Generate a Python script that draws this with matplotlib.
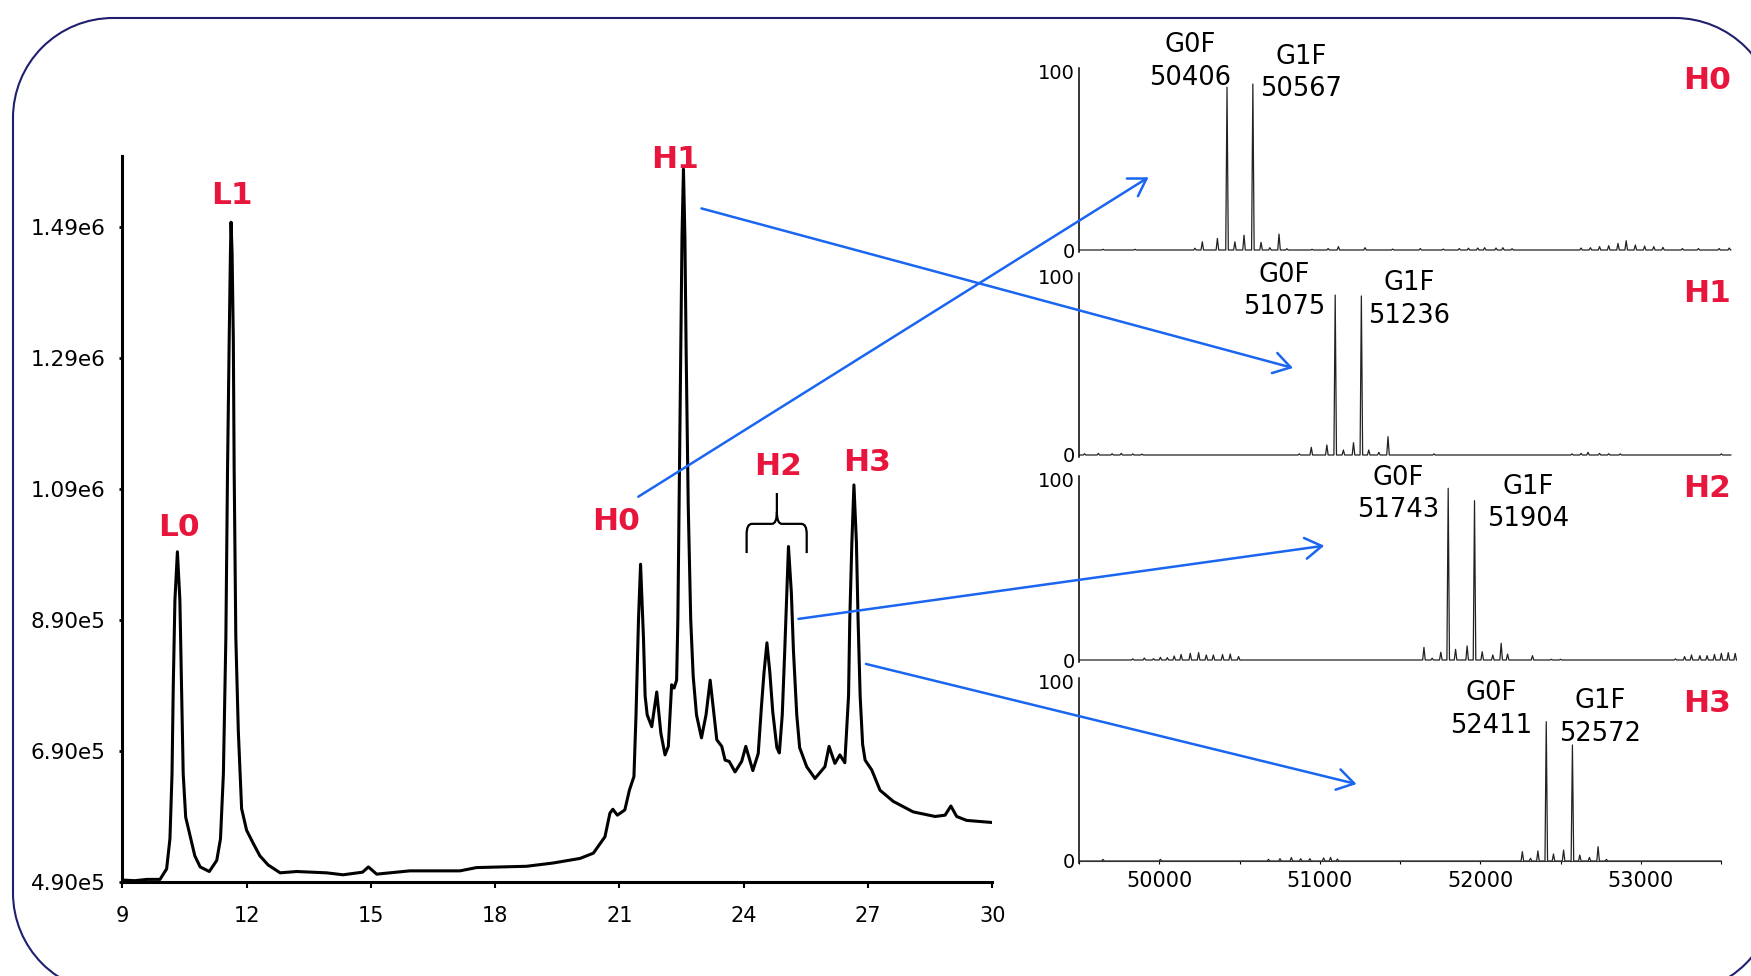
import matplotlib
matplotlib.use("Agg")
import matplotlib.pyplot as plt
from matplotlib.patches import ConnectionPatch, PathPatch
from matplotlib.path import Path
from matplotlib.transforms import Affine2D
from matplotlib.ticker import MultipleLocator

# chromatogram: retention time (min) and intensity
rt = [9.00, 9.30, 9.60, 9.91, 10.07, 10.15, 10.20, 10.23, 10.27, 10.33, 10.39, 10.43,
      10.47, 10.53, 10.63, 10.75, 10.88, 11.10, 11.28, 11.37, 11.44, 11.50, 11.54, 11.58,
      11.61, 11.625, 11.65, 11.68, 11.70, 11.74, 11.80, 11.88, 12.00, 12.16, 12.32, 12.52,
      12.81, 13.21, 13.93, 14.33, 14.80, 14.94, 15.14, 15.94, 17.15, 17.55, 18.76, 19.40,
      20.05, 20.37, 20.65, 20.77, 20.84, 20.95, 21.13, 21.24, 21.35, 21.40, 21.46, 21.51,
      21.58, 21.62, 21.67, 21.78, 21.90, 22.00, 22.10, 22.18, 22.26, 22.32, 22.38, 22.41,
      22.44, 22.48, 22.51, 22.545, 22.58, 22.61, 22.66, 22.72, 22.78, 22.86, 22.98, 23.09,
      23.19, 23.26, 23.35, 23.47, 23.55, 23.65, 23.79, 23.95, 24.05, 24.22, 24.35, 24.43,
      24.49, 24.56, 24.63, 24.70, 24.80, 24.86, 24.93, 24.99, 25.04, 25.08, 25.15, 25.20,
      25.28, 25.35, 25.52, 25.72, 25.88, 25.96, 26.06, 26.20, 26.32, 26.44, 26.53, 26.56,
      26.61, 26.66, 26.72, 26.76, 26.81, 26.87, 26.93, 27.09, 27.29, 27.61, 28.09, 28.62,
      28.86, 29.00, 29.14, 29.38, 29.96]
intensity = [4.93e5, 4.92e5, 4.94e5, 4.94e5, 5.10e5, 5.56e5, 6.55e5, 7.88e5, 9.20e5, 9.94e5,
             9.20e5, 7.88e5, 6.55e5, 5.89e5, 5.62e5, 5.30e5, 5.13e5, 5.06e5, 5.23e5, 5.56e5,
             6.55e5, 8.64e5, 1.119e6, 1.317e6, 1.450e6, 1.497e6, 1.450e6, 1.317e6, 1.119e6, 8.64e5,
             7.21e5, 6.02e5, 5.69e5, 5.49e5, 5.30e5, 5.16e5, 5.04e5, 5.06e5, 5.04e5, 5.01e5,
             5.05e5, 5.13e5, 5.02e5, 5.07e5, 5.07e5, 5.12e5, 5.14e5, 5.19e5, 5.26e5, 5.34e5,
             5.59e5, 5.95e5, 6.01e5, 5.92e5, 6.00e5, 6.30e5, 6.51e5, 7.45e5, 8.91e5, 9.75e5,
             8.62e5, 7.74e5, 7.45e5, 7.27e5, 7.80e5, 7.17e5, 6.84e5, 6.97e5, 7.91e5, 7.86e5,
             7.98e5, 8.91e5, 1.066e6, 1.300e6, 1.475e6, 1.578e6, 1.475e6, 1.300e6, 1.066e6, 8.91e5,
             8.04e5, 7.45e5, 7.10e5, 7.45e5, 7.98e5, 7.58e5, 7.07e5, 6.97e5, 6.76e5, 6.74e5,
             6.58e5, 6.74e5, 6.97e5, 6.60e5, 6.86e5, 7.60e5, 8.10e5, 8.55e5, 8.10e5, 7.50e5,
             6.95e5, 6.87e5, 7.45e5, 8.43e5, 9.31e5, 1.002e6, 9.31e5, 8.43e5, 7.45e5, 6.95e5,
             6.66e5, 6.48e5, 6.60e5, 6.66e5, 6.97e5, 6.71e5, 6.84e5, 6.72e5, 7.74e5, 8.91e5,
             1.008e6, 1.096e6, 1.008e6, 8.91e5, 7.74e5, 7.00e5, 6.76e5, 6.61e5, 6.30e5, 6.13e5,
             5.97e5, 5.90e5, 5.92e5, 6.06e5, 5.90e5, 5.84e5, 5.81e5]

rt_ticks = [9, 12, 15, 18, 21, 24, 27, 30]
int_ticks = [4.90e5, 6.90e5, 8.90e5, 1.09e6, 1.29e6, 1.49e6]
int_tick_labels = ["4.90e5", "6.90e5", "8.90e5", "1.09e6", "1.29e6", "1.49e6"]

# chain labels on the chromatogram (baseline position)
chrom_labels = ["L0", "L1", "H0", "H1", "H2", "H3"]
chrom_label_rt = [10.37, 11.64, 20.91, 22.34, 24.82, 26.97]
chrom_label_int = [1.018e6, 1.524e6, 1.027e6, 1.580e6, 1.111e6, 1.117e6]

# deconvoluted mass spectra (mass, relative intensity) for H0..H3
h0_mass = [49648, 49848, 50221, 50267, 50361, 50421, 50470, 50527, 50582, 50633, 50688,
           50745, 50794, 50951, 51051, 51115, 51281, 51453, 51625, 51768, 51868, 51925,
           51983, 52026, 52097, 52140, 52197, 52627, 52685, 52742, 52799, 52857, 52908,
           52965, 53023, 53080, 53137, 53258, 53358, 53487, 53550]
h0_int = [0.4, 0.4, 1.0, 4.6, 6.5, 91.3, 4.6, 8.3, 93.1, 4.3, 1.3,
          8.9, 0.7, 0.4, 0.8, 1.9, 1.3, 0.5, 0.8, 0.5, 0.8, 1.0,
          1.1, 1.3, 1.1, 1.3, 0.7, 1.1, 1.3, 1.9, 2.4, 3.7, 5.2,
          2.8, 2.2, 1.9, 1.5, 0.8, 0.8, 0.8, 1.1]
h1_mass = [49533, 49619, 49705, 49762, 49834, 49891, 50871, 50946, 51043, 51095, 51146,
           51209, 51258, 51304, 51367, 51424, 51711, 52570, 52627, 52670, 52742, 52799,
           52871, 53501]
h1_int = [0.7, 0.9, 0.7, 0.9, 0.6, 0.5, 0.6, 4.3, 5.6, 89.7, 2.8,
          6.9, 89.2, 2.8, 1.5, 10.3, 0.6, 0.6, 0.9, 1.5, 0.9, 0.7,
          0.6, 0.6]
h2_mass = [49834, 49906, 49963, 50006, 50049, 50092, 50135, 50192, 50244, 50292, 50336,
           50393, 50441, 50493, 51648, 51699, 51753, 51799, 51845, 51917, 51963, 52011,
           52077, 52129, 52169, 52324, 52441, 52499, 53215, 53272, 53315, 53367, 53412,
           53458, 53501, 53544, 53587]
h2_int = [0.6, 1.1, 0.7, 1.5, 1.3, 2.2, 3.1, 3.7, 4.1, 2.8, 2.8,
          3.0, 3.3, 1.9, 7.0, 1.0, 4.3, 95.4, 5.9, 7.8, 88.5, 4.6,
          2.8, 9.3, 3.3, 2.4, 0.4, 0.4, 0.6, 1.9, 2.8, 2.4, 2.4,
          3.1, 3.7, 4.1, 3.7]
h3_mass = [49648, 50006, 50679, 50751, 50822, 50880, 50937, 51023, 51066, 51109, 52261,
           52312, 52358, 52410, 52455, 52518, 52573, 52619, 52679, 52733, 52785]
h3_int = [0.9, 0.9, 0.9, 1.3, 1.9, 1.3, 1.3, 1.7, 2.0, 1.1, 5.2,
          1.5, 5.6, 77.7, 3.9, 6.1, 64.7, 3.3, 2.0, 8.0, 0.9]
spectra_mass = [h0_mass, h1_mass, h2_mass, h3_mass]
spectra_int = [h0_int, h1_int, h2_int, h3_int]
spectra_end = [53560, 53560, 53600, 53500]
spectra_names = ["H0", "H1", "H2", "H3"]

mass_ticks = [50000, 51000, 52000, 53000]

# glycoform labels: text, mass of label centre, intensity of first/second line baseline
glyco_names = [["G0F", "G1F"]] * 4
glyco_values = [["50406", "50567"], ["51075", "51236"], ["51743", "51904"], ["52411", "52572"]]
glyco_mass = [[50190, 50884], [50775, 51557], [51486, 52296], [52067, 52746]]
glyco_line1 = [[111.0, 104.5], [97.0, 92.3], [97.0, 92.4], [89.6, 85.3]]
glyco_line2 = [[92.3, 86.2], [78.8, 74.1], [79.3, 74.3], [71.5, 66.8]]
name_mass = 53411
name_int = [90.5, 85.8, 90.4, 83.1]

# arrows: chromatogram point -> spectrum point
arrow_from = [(21.455, 1.078e6), (22.98, 1.518e6), (25.32, 8.915e5), (26.95, 8.228e5)]
arrow_to = [(49932, 40.8), (50832, 48.8), (51027, 63.5), (51228, 42.9)]

RED = "#e8153c"
BLUE = "#1a66f0"
NAVY = "#1f1f70"

W, H = 1751, 976
fig = plt.figure(figsize=(W / 100, H / 100), dpi=100)

# ---- chromatogram
ax = fig.add_axes([122.3 / W, (H - 882) / H, 870 / W, 726 / H])
ax.plot(rt, intensity, color="black", lw=2.2, solid_joinstyle="round")
ax.set_xlim(9, 30)
ax.set_ylim(4.90e5, 1.598e6)
ax.spines[["top", "right"]].set_visible(False)
for s in ["left", "bottom"]:
    ax.spines[s].set_linewidth(2.2)
ax.set_xticks(rt_ticks)
ax.set_yticks(int_ticks)
ax.set_yticklabels(int_tick_labels)
ax.tick_params(axis="y", length=2, width=2, pad=10, labelsize=15.5)
ax.tick_params(axis="x", length=4, width=1.5, pad=13.5, labelsize=15)

for lab, x, y in zip(chrom_labels, chrom_label_rt, chrom_label_int):
    ax.text(x, y, lab, color=RED, fontsize=22.5, fontweight="bold",
            ha="center", va="baseline")

# brace over the H2 pair
bl, br, bc = 24.07, 25.52, 24.80
yb, yh, yt = 9.92e5, 1.0366e6, 1.0837e6
verts = [(bl, yb), (bl, 1.021e6), (bl, yh), (bl + 0.13, yh), (bc - 0.12, yh),
         (bc, yh), (bc, 1.055e6), (bc, yt),
         (bc, 1.055e6), (bc, yh), (bc + 0.12, yh), (br - 0.13, yh),
         (br, yh), (br, 1.021e6), (br, yb)]
codes = [Path.MOVETO, Path.LINETO, Path.CURVE3, Path.CURVE3, Path.LINETO,
         Path.CURVE3, Path.CURVE3, Path.LINETO,
         Path.MOVETO, Path.CURVE3, Path.CURVE3, Path.LINETO,
         Path.CURVE3, Path.CURVE3, Path.LINETO]
ax.add_patch(PathPatch(Path(verts, codes), fill=False, lw=1.6, color="black"))

# ---- spectra
bases = [250, 455, 660, 861]
tops = [71.7, 276.7, 480, 681.7]
spec_axes = []
for i in range(4):
    ppu = (bases[i] - tops[i]) / 100
    bottom_px = bases[i] + 1 * ppu
    sax = fig.add_axes([1079.2 / W, (H - bottom_px) / H, 4100 * 0.1605 / W, 103 * ppu / H])
    xs, ys = [49500], [0]
    for m, h in zip(spectra_mass[i], spectra_int[i]):
        hw = 8
        xs += [m - hw, m, m + hw]
        ys += [0, h, 0]
    xs.append(spectra_end[i])
    ys.append(0)
    sax.plot(xs, ys, color="#222222", lw=0.9)
    sax.set_xlim(49500, 53600)
    sax.set_ylim(-1, 102)
    sax.patch.set_alpha(0)
    sax.spines[["top", "right"]].set_visible(False)
    sax.spines["left"].set_linewidth(1.1)
    sax.set_yticks([0, 100])
    sax.set_yticklabels(["0", "100"])
    sax.tick_params(axis="y", length=0, pad=3, labelsize=14)
    if i < 3:
        sax.spines["bottom"].set_visible(False)
        sax.set_xticks([])
    else:
        sax.spines["bottom"].set_position(("data", 0))
        sax.spines["bottom"].set_bounds(49500, 53500)
        sax.spines["bottom"].set_color("#333333")
        sax.set_xticks(mass_ticks)
        sax.xaxis.set_minor_locator(MultipleLocator(500))
        sax.tick_params(axis="x", which="both", length=2.5, width=0.8, pad=5, labelsize=15)
    for k in range(2):
        sax.text(glyco_mass[i][k], glyco_line1[i][k], glyco_names[i][k], fontsize=18.5,
                 ha="center", va="baseline")
        sax.text(glyco_mass[i][k], glyco_line2[i][k], glyco_values[i][k], fontsize=18.5,
                 ha="center", va="baseline")
    sax.text(name_mass, name_int[i], spectra_names[i], color=RED, fontsize=22.5,
             fontweight="bold", ha="center", va="baseline")
    spec_axes.append(sax)

# ---- arrows linking chromatogram peaks to spectra
for (p, q, sax) in zip(arrow_from, arrow_to, spec_axes):
    con = ConnectionPatch(xyA=p, coordsA=ax.transData, xyB=q, coordsB=sax.transData,
                          arrowstyle="->,head_length=1.2,head_width=0.75",
                          mutation_scale=10, color=BLUE, lw=1.8, zorder=10)
    fig.add_artist(con)

# rounded frame (pixel coordinates, circular corners)
x0, x1, yB, yT, r = 13, 1775, -17, 958, 100
pieces = [
    Path([(x0 + r, yT), (x1 - r, yT)]),
    Path.arc(0, 90).transformed(Affine2D().scale(r).translate(x1 - r, yT - r)),
    Path([(x1, yT - r), (x1, yB + r)]),
    Path.arc(270, 360).transformed(Affine2D().scale(r).translate(x1 - r, yB + r)),
    Path([(x1 - r, yB), (x0 + r, yB)]),
    Path.arc(180, 270).transformed(Affine2D().scale(r).translate(x0 + r, yB + r)),
    Path([(x0, yB + r), (x0, yT - r)]),
    Path.arc(90, 180).transformed(Affine2D().scale(r).translate(x0 + r, yT - r)),
]
frame = PathPatch(Path.make_compound_path(*pieces), fill=False, edgecolor=NAVY, lw=1.5,
                  transform=Affine2D().scale(1 / 100) + fig.dpi_scale_trans)
fig.add_artist(frame)

fig.savefig("out.png", dpi=100)
